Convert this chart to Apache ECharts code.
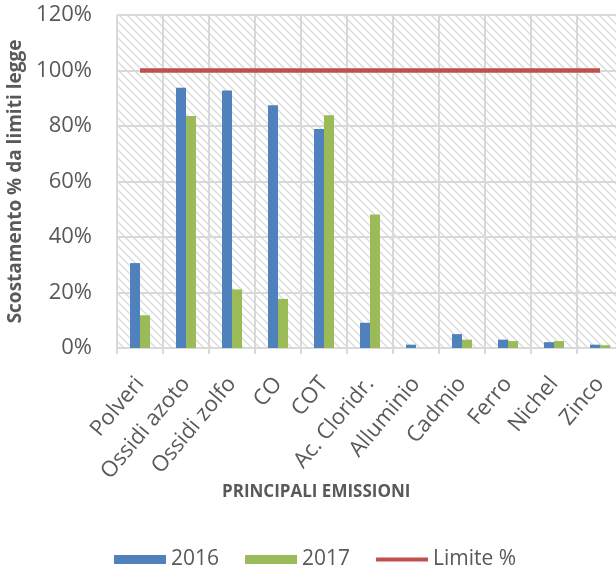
<!DOCTYPE html>
<html>
<head>
<meta charset="utf-8">
<script src="https://cdn.jsdelivr.net/npm/echarts@6/dist/echarts.min.js"></script>
<style>
  html, body { margin: 0; padding: 0; background: #fff; }
  #chart { width: 616px; height: 573px; }
</style>
</head>
<body>
<div id="chart"></div>
<script>
// dati (valori in %)
var categorie = ['Polveri', 'Ossidi azoto', 'Ossidi zolfo', 'CO', 'COT', 'Ac. Cloridr.', 'Alluminio', 'Cadmio', 'Ferro', 'Nichel', 'Zinco'];
var valori2016 = [30.6, 93.8, 92.8, 87.5, 78.9, 9.1, 1.2, 5.0, 3.0, 2.1, 1.2];
var valori2017 = [11.8, 83.6, 21.1, 17.7, 83.9, 48.1, 0, 3.0, 2.5, 2.5, 1.0];
var limite = [100, 100, 100, 100, 100, 100, 100, 100, 100, 100, 100];
var tickY = [0, 20, 40, 60, 80, 100, 120];

var testo = '#595959';
var griglia = '#d9d9d9';
var font = "'Open Sans', sans-serif";

// sfondo tratteggiato dell'area del grafico
function tratteggio() {
    var c = document.createElement('canvas');
    c.width = 8;
    c.height = 8;
    var ctx = c.getContext('2d');
    ctx.fillStyle = '#ffffff';
    ctx.fillRect(0, 0, 8, 8);
    ctx.strokeStyle = '#dcdcdc';
    ctx.lineWidth = 1.5;
    ctx.beginPath();
    ctx.moveTo(-2, -2); ctx.lineTo(10, 10);
    ctx.moveTo(-2, 6); ctx.lineTo(2, 10);
    ctx.moveTo(6, -2); ctx.lineTo(10, 2);
    ctx.stroke();
    return c;
}

var chart = echarts.init(document.getElementById('chart'));

var option = {
    animation: false,
    textStyle: { fontFamily: font, color: testo },
    title: {
        text: 'PRINCIPALI EMISSIONI',
        left: 217,
        top: 479,
        textStyle: { fontFamily: font, fontSize: 17, fontWeight: 'bold', color: testo }
    },
    legend: {
        left: 114,
        top: 549,
        padding: 0,
        itemWidth: 52,
        itemHeight: 9,
        itemGap: 26,
        symbolKeepAspect: true,
        textStyle: { fontFamily: font, fontSize: 21, color: testo },
        data: [
            { name: '2016', icon: 'rect' },
            { name: '2017', icon: 'rect' },
            { name: 'Limite %', icon: 'path://M0,0L55,0L55,4L0,4Z' }
        ]
    },
    grid: {
        left: 117,
        top: 15,
        right: -7,
        height: 333,
        outerBoundsMode: 'none',
        show: true,
        borderWidth: 0,
        backgroundColor: { image: tratteggio(), repeat: 'repeat' }
    },
    xAxis: {
        type: 'category',
        data: categorie,
        axisLine: { lineStyle: { color: griglia, width: 2 } },
        axisTick: { show: true, length: 6, lineStyle: { color: griglia, width: 2 } },
        splitLine: { show: true, interval: 0, lineStyle: { color: griglia, width: 2 } },
        axisLabel: {
            interval: 0,
            rotate: 50,
            margin: 32,
            fontSize: 22,
            color: testo,
            fontFamily: font
        }
    },
    yAxis: {
        type: 'value',
        min: 0,
        max: 120,
        interval: 20,
        name: 'Scostamento % da limiti legge',
        nameLocation: 'middle',
        nameGap: 89,
        nameTextStyle: { fontFamily: font, fontSize: 19, fontWeight: 'bold', color: testo },
        axisLine: { show: false },
        axisTick: { show: false },
        splitLine: { lineStyle: { color: griglia, width: 2 } },
        axisLabel: {
            margin: 25,
            fontSize: 22,
            color: testo,
            fontFamily: font,
            formatter: function (v) {
                return tickY.indexOf(v) >= 0 ? v + '%' : '';
            }
        }
    },
    series: [
        {
            name: '2016',
            type: 'bar',
            data: valori2016,
            barWidth: 10,
            barGap: '0%',
            itemStyle: { color: '#4f81bd' }
        },
        {
            name: '2017',
            type: 'bar',
            data: valori2017,
            barWidth: 10,
            barGap: '0%',
            itemStyle: { color: '#9bbb59' }
        },
        {
            name: 'Limite %',
            type: 'line',
            data: limite,
            symbol: 'none',
            z: 5,
            itemStyle: { color: '#c0504d' },
            lineStyle: { color: '#c0504d', width: 4.5 }
        }
    ]
};

chart.setOption(option);
</script>
</body>
</html>
